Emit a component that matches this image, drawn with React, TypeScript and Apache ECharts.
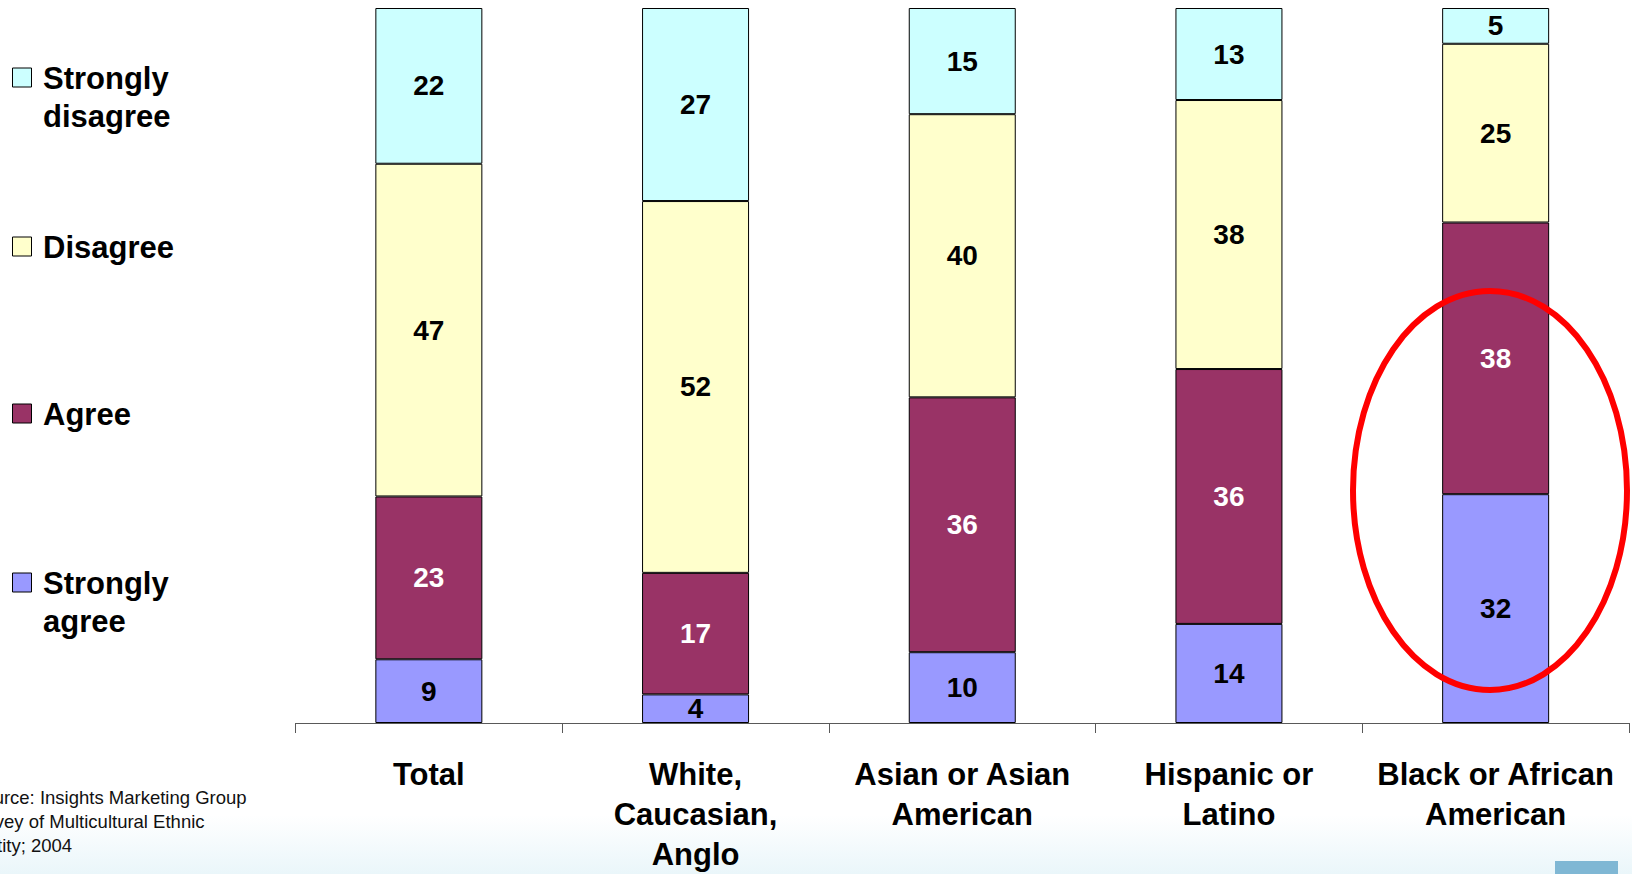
import React, { useEffect, useRef } from "react";
import * as echarts from "echarts";

const categories = [
  "Total",
  "White,\nCaucasian,\nAnglo",
  "Asian or Asian\nAmerican",
  "Hispanic or\nLatino",
  "Black or African\nAmerican",
];
const stronglyAgree = [9, 4, 10, 14, 32];
const agree = [23, 17, 36, 36, 38];
const disagree = [47, 52, 40, 38, 25];
const stronglyDisagree = [22, 27, 15, 13, 5];

const seriesNames = ["Strongly agree", "Agree", "Disagree", "Strongly disagree"];
const seriesValues = [stronglyAgree, agree, disagree, stronglyDisagree];
const seriesColors = ["#9999FF", "#993366", "#FFFFCC", "#CCFFFF"];
const labelColors = ["#000000", "#FFFFFF", "#000000", "#000000"];
const legendLabels = ["Strongly\nagree", "Agree", "Disagree", "Strongly\ndisagree"];
const sourceLines = ["Source: Insights Marketing Group", "Survey of Multicultural Ethnic", "Identity; 2004"];

const FONT = "'Liberation Sans', Arial, Helvetica, sans-serif";

export default function App() {
  const ref = useRef<HTMLDivElement>(null);

  useEffect(() => {
    if (!ref.current) return;
    const chart = echarts.init(ref.current, null, { renderer: "svg" });

    const sums = categories.map((_, i) => seriesValues.reduce((s, arr) => s + arr[i], 0));

    const series = seriesNames.map((name, k) => ({
      name,
      type: "bar",
      stack: "total",
      barWidth: 107,
      data: seriesValues[k].map((v, i) => (v / sums[i]) * 100),
      itemStyle: { color: seriesColors[k], borderColor: "#000", borderWidth: 1 },
      label: {
        show: true,
        position: "inside",
        fontFamily: FONT,
        fontWeight: "bold",
        fontSize: 28,
        color: labelColors[k],
        formatter: (p: any) => String(seriesValues[k][p.dataIndex]),
      },
    }));

    // legend (custom placement, first line aligned with marker)
    const legendTops = [583, 414, 247, 78];
    const legendGraphics: any[] = [];
    seriesNames.forEach((_, k) => {
      legendGraphics.push({
        type: "rect",
        shape: { x: 12.5, y: legendTops[k] - 10, width: 19, height: 19 },
        style: { fill: seriesColors[k], stroke: "#000", lineWidth: 1 },
      });
      legendGraphics.push({
        type: "text",
        x: 43,
        y: legendTops[k] - 19,
        style: {
          text: legendLabels[k],
          font: `bold 31px ${FONT}`,
          lineHeight: 38,
          fill: "#000",
          verticalAlign: "top",
          align: "left",
        },
      });
    });

    const sourceX = [-29, -34, -39];
    const sourceGraphics = sourceLines.map((line, i) => ({
      type: "text",
      x: sourceX[i],
      y: 785 + i * 24,
      style: {
        text: line,
        font: `18.5px ${FONT}`,
        lineHeight: 24,
        fill: "#111",
        verticalAlign: "top",
        align: "left",
      },
    }));

    chart.setOption({
      animation: false,
      grid: { left: 295.5, right: 3, top: 8, bottom: 148, containLabel: false },
      xAxis: {
        type: "category",
        data: categories,
        axisLine: { show: true, lineStyle: { color: "#595959", width: 1 } },
        axisTick: { show: true, length: 10, lineStyle: { color: "#595959" } },
        axisLabel: {
          interval: 0,
          margin: 31,
          fontFamily: FONT,
          fontWeight: "bold",
          fontSize: 31,
          lineHeight: 40,
          color: "#000",
          align: "center",
        },
      },
      yAxis: { type: "value", min: 0, max: 100, show: false, splitLine: { show: false } },
      series,
      graphic: [
        ...legendGraphics,
        ...sourceGraphics,
        {
          type: "ellipse",
          shape: { cx: 1490, cy: 490.5, rx: 137, ry: 199.5 },
          style: { fill: "none", stroke: "#FF0000", lineWidth: 6 },
          z: 100,
        },
        {
          type: "rect",
          shape: { x: 1555, y: 861, width: 63, height: 13 },
          style: { fill: "#7fb7d4" },
        },
      ],
    });

    return () => chart.dispose();
  }, []);

  return (
    <div
      ref={ref}
      style={{
        position: "fixed",
        left: 0,
        top: 0,
        width: 1632,
        height: 874,
        background: "linear-gradient(to bottom, #ffffff 0px, #ffffff 815px, #eaf6fa 874px)",
      }}
    />
  );
}
